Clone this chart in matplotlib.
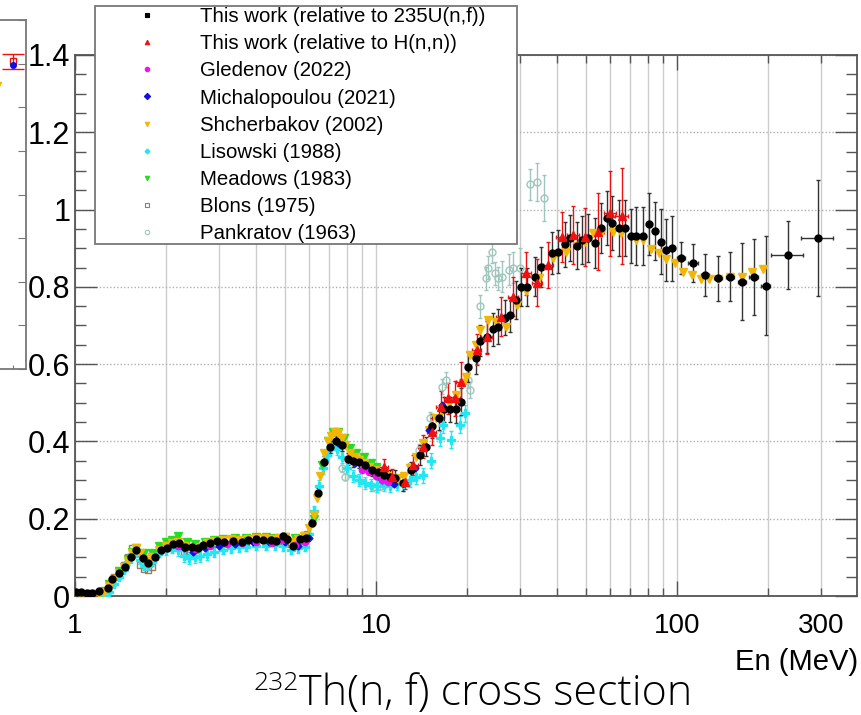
import numpy as np
import matplotlib.pyplot as plt
from matplotlib.ticker import FixedLocator, FixedFormatter, NullFormatter
from matplotlib.lines import Line2D

plt.rcParams['font.family'] = ['Liberation Sans', 'DejaVu Sans']

# ---- this work, relative to 235U(n,f)
E_tw = [1.01, 1.05, 1.10, 1.14, 1.20, 1.29, 1.33, 1.40, 1.47, 1.535,
        1.60, 1.68, 1.75, 1.84, 1.93, 2.02, 2.12, 2.22, 2.32, 2.44,
        2.57, 2.67, 2.81, 2.96, 3.12, 3.35, 3.58, 3.76, 4.00, 4.22,
        4.47, 4.67, 4.90, 5.05, 5.31, 5.58, 5.84, 6.14, 6.41, 6.74,
        7.03, 7.34, 7.69, 8.05, 8.40, 8.78, 9.22, 9.66, 10.15, 10.63,
        11.1, 11.6, 12.3, 13.1, 14.0, 14.6, 15.3, 16.2, 16.8, 17.6,
        18.4, 19.2, 20.2, 21.4, 22.2, 23.3, 24.5, 25.4, 26.8, 27.8,
        29.2, 30.4, 31.8, 33.8, 35.4, 38.5, 40.3, 42.4, 44.0, 46.4,
        48.5, 50.6, 53.3, 55.7, 58.5, 61.0, 63.9, 67.1, 70.5, 73.3,
        77.0, 80.6, 84.3, 88.2, 92.0, 96.3, 103, 113, 124, 137,
        150, 164, 180, 197, 234, 294]
Y_tw = [0.010, 0.010, 0.008, 0.008, 0.012, 0.020, 0.044, 0.060, 0.076, 0.100,
        0.120, 0.098, 0.085, 0.100, 0.120, 0.124, 0.134, 0.136, 0.126, 0.127,
        0.124, 0.132, 0.138, 0.143, 0.140, 0.143, 0.140, 0.145, 0.147, 0.145,
        0.145, 0.143, 0.155, 0.147, 0.130, 0.147, 0.150, 0.190, 0.267, 0.347,
        0.386, 0.400, 0.390, 0.354, 0.350, 0.347, 0.339, 0.326, 0.322, 0.313,
        0.309, 0.305, 0.292, 0.325, 0.365, 0.386, 0.440, 0.460, 0.483, 0.483,
        0.483, 0.503, 0.593, 0.615, 0.660, 0.670, 0.690, 0.697, 0.720, 0.727,
        0.766, 0.800, 0.800, 0.826, 0.852, 0.888, 0.891, 0.910, 0.926, 0.907,
        0.921, 0.927, 0.913, 0.952, 0.978, 0.965, 0.953, 0.953, 0.932, 0.932,
        0.932, 0.962, 0.945, 0.917, 0.895, 0.900, 0.875, 0.862, 0.831, 0.822,
        0.826, 0.813, 0.826, 0.803, 0.882, 0.926]
dY_tw = [0.004, 0.004, 0.004, 0.004, 0.004, 0.004, 0.004, 0.004, 0.004, 0.004,
         0.006, 0.006, 0.006, 0.006, 0.006, 0.006, 0.006, 0.006, 0.006, 0.006,
         0.006, 0.006, 0.006, 0.006, 0.006, 0.006, 0.006, 0.006, 0.006, 0.006,
         0.006, 0.006, 0.006, 0.006, 0.008, 0.008, 0.008, 0.010, 0.012, 0.014,
         0.015, 0.015, 0.015, 0.015, 0.015, 0.015, 0.015, 0.015, 0.018, 0.018,
         0.018, 0.020, 0.020, 0.022, 0.025, 0.025, 0.030, 0.030, 0.032, 0.032,
         0.035, 0.035, 0.038, 0.040, 0.040, 0.042, 0.042, 0.045, 0.045, 0.045,
         0.048, 0.050, 0.050, 0.050, 0.052, 0.055, 0.055, 0.058, 0.060, 0.060,
         0.062, 0.062, 0.065, 0.065, 0.070, 0.070, 0.072, 0.072, 0.070, 0.075,
         0.075, 0.080, 0.075, 0.084, 0.080, 0.084, 0.042, 0.050, 0.054, 0.058,
         0.063, 0.100, 0.099, 0.128, 0.088, 0.150]
dE_tw = [0] * 96 + [3, 4, 4, 4, 5, 5, 6, 7, 29, 35]

# ---- this work, relative to H(n,n)
E_hn = [10.6, 11.3, 12.5, 13.3, 14.3, 15.3, 16.4, 17.4, 18.3, 19.2, 21.6, 23.3,
        26.1, 28.6, 31.4, 34.3, 37.3, 41.4, 45.2, 49.4, 54.6, 60.0, 65.5]
Y_hn = [0.335, 0.309, 0.296, 0.339, 0.386, 0.425, 0.490, 0.512, 0.512, 0.555, 0.637, 0.671,
        0.723, 0.775, 0.835, 0.811, 0.857, 0.930, 0.934, 0.930, 0.943, 0.990, 0.983]
dY_hn = [0.020, 0.020, 0.020, 0.025, 0.030, 0.035, 0.040, 0.040, 0.045, 0.050, 0.040, 0.045,
         0.050, 0.050, 0.055, 0.060, 0.060, 0.065, 0.075, 0.075, 0.100, 0.110, 0.125]
dE_hn = [0.4, 0.4, 0.45, 0.5, 0.5, 0.55, 0.6, 0.6, 0.65, 0.7, 0.8, 0.9,
         1.0, 1.1, 1.2, 1.3, 1.4, 1.8, 2.0, 2.2, 2.5, 2.8, 3.1]

# ---- Gledenov (2022)
E_gle = [2.2, 2.5, 2.8, 3.2, 3.6, 4.0, 4.5, 4.86, 5.38, 5.8, 8.4, 9.0, 9.5, 10.0, 10.5, 11.0]
Y_gle = [0.130, 0.122, 0.130, 0.135, 0.138, 0.140, 0.138, 0.145, 0.132, 0.140,
         0.350, 0.325, 0.320, 0.310, 0.300, 0.295]

# ---- Michalopoulou (2021)
E_mic = [2.3, 2.46, 2.7, 3.0, 3.4, 3.9, 4.4, 5.0, 5.5, 6.0, 7.5, 8.5, 9.5, 10.5, 11.5, 13.5, 15.0, 16.5]
Y_mic = [0.125, 0.115, 0.125, 0.130, 0.135, 0.140, 0.140, 0.140, 0.130, 0.150,
         0.395, 0.345, 0.325, 0.300, 0.290, 0.330, 0.430, 0.495]

# ---- Shcherbakov (2002)
E_sch = [1.00, 1.05, 1.10, 1.15, 1.20, 1.25, 1.30, 1.35, 1.40, 1.45,
         1.50, 1.55, 1.60, 1.65, 1.70, 1.75, 1.80, 1.90, 2.00, 2.10,
         2.20, 2.30, 2.45, 2.60, 2.75, 2.90, 3.10, 3.30, 3.50, 3.75,
         4.00, 4.25, 4.50, 4.75, 5.00, 5.25, 5.50, 5.75, 6.00, 6.20,
         6.35, 6.50, 6.70, 6.90, 7.10, 7.30, 7.50, 7.70, 7.90, 8.20,
         8.50, 8.80, 9.10, 9.50, 9.90, 10.3, 10.8, 11.3, 11.8, 12.4,
         13.0, 13.6, 14.3, 15.0, 15.8, 16.6, 17.5, 18.4, 19.4, 19.9,
         20.5, 21.5, 22.2, 23.6, 25.1, 27.1, 29.3, 31.6, 34.9, 38.8,
         42.9, 46.6, 49.4, 52.6, 56.0, 61.4, 65.0, 73.3, 77.0, 82.1,
         87.0, 92.0, 98.3, 105, 112, 120, 128, 137, 150, 164,
         177, 193]
Y_sch = [0.005, 0.005, 0.005, 0.005, 0.006, 0.010, 0.025, 0.045, 0.060, 0.075,
         0.090, 0.110, 0.125, 0.110, 0.095, 0.090, 0.100, 0.120, 0.130, 0.137,
         0.140, 0.130, 0.125, 0.128, 0.137, 0.143, 0.145, 0.147, 0.146, 0.148,
         0.150, 0.149, 0.148, 0.150, 0.152, 0.140, 0.148, 0.155, 0.175, 0.210,
         0.253, 0.310, 0.371, 0.400, 0.415, 0.425, 0.423, 0.410, 0.390, 0.370,
         0.360, 0.352, 0.345, 0.335, 0.325, 0.318, 0.310, 0.305, 0.305, 0.310,
         0.330, 0.360, 0.395, 0.430, 0.460, 0.480, 0.500, 0.520, 0.550, 0.568,
         0.624, 0.650, 0.688, 0.714, 0.710, 0.697, 0.753, 0.788, 0.822, 0.874,
         0.891, 0.905, 0.915, 0.939, 0.940, 0.943, 0.940, 0.921, 0.920, 0.897,
         0.888, 0.871, 0.861, 0.839, 0.831, 0.820, 0.820, 0.820, 0.826, 0.826,
         0.838, 0.846]

# ---- Lisowski (1988)
E_lis = [1.25, 1.30, 1.35, 1.40, 1.45, 1.50, 1.55, 1.60, 1.65, 1.70,
         1.75, 1.80, 1.90, 2.00, 2.10, 2.20, 2.30, 2.40, 2.50, 2.60,
         2.75, 2.90, 3.10, 3.30, 3.50, 3.70, 4.00, 4.30, 4.60, 4.90,
         5.20, 5.50, 5.80, 6.00, 6.20, 6.45, 6.65, 6.85, 7.10, 7.40,
         7.70, 8.00, 8.40, 8.80, 9.20, 9.60, 10.1, 10.6, 11.1, 11.7,
         12.3, 13.0, 13.6, 14.3, 15.2, 16.3, 16.7, 17.8, 19.0, 19.7]
Y_lis = [0.000, 0.010, 0.030, 0.050, 0.068, 0.088, 0.108, 0.112, 0.092, 0.078,
         0.078, 0.088, 0.112, 0.118, 0.125, 0.118, 0.103, 0.098, 0.100, 0.104,
         0.108, 0.115, 0.120, 0.124, 0.127, 0.128, 0.130, 0.130, 0.131, 0.129,
         0.120, 0.124, 0.128, 0.160, 0.220, 0.285, 0.330, 0.365, 0.385, 0.380,
         0.360, 0.330, 0.310, 0.300, 0.292, 0.288, 0.285, 0.288, 0.284, 0.290,
         0.290, 0.300, 0.308, 0.312, 0.350, 0.408, 0.443, 0.404, 0.443, 0.473]
dY_lis = [0.005, 0.005, 0.005, 0.006, 0.006, 0.008, 0.010, 0.010, 0.010, 0.010,
          0.010, 0.010, 0.012, 0.012, 0.015, 0.015, 0.015, 0.015, 0.015, 0.015,
          0.015, 0.015, 0.012, 0.012, 0.012, 0.012, 0.012, 0.012, 0.012, 0.012,
          0.012, 0.012, 0.012, 0.012, 0.012, 0.014, 0.014, 0.014, 0.015, 0.015,
          0.015, 0.015, 0.015, 0.015, 0.015, 0.015, 0.015, 0.015, 0.015, 0.015,
          0.018, 0.018, 0.018, 0.020, 0.020, 0.020, 0.020, 0.022, 0.022, 0.022]

# ---- Meadows (1983)
E_mea = [1.30, 1.40, 1.50, 1.55, 1.60, 1.70, 1.80, 1.90, 2.00, 2.10,
         2.20, 2.35, 2.50, 2.70, 2.90, 3.10, 3.40, 3.70, 4.00, 4.30,
         4.60, 5.00, 5.40, 5.80, 6.20, 6.60, 6.90, 7.20, 7.50, 7.80,
         8.20, 8.60, 9.10, 9.60, 10.0]
Y_mea = [0.030, 0.065, 0.095, 0.115, 0.125, 0.110, 0.110, 0.130, 0.140, 0.145,
         0.155, 0.140, 0.135, 0.140, 0.145, 0.148, 0.150, 0.150, 0.152, 0.152,
         0.150, 0.153, 0.150, 0.155, 0.200, 0.340, 0.400, 0.425, 0.425, 0.410,
         0.382, 0.370, 0.360, 0.343, 0.335]

# ---- Blons (1975)
E_blo = [1.15, 1.25, 1.30, 1.35, 1.40, 1.45, 1.50, 1.55, 1.60, 1.65,
         1.70, 1.75, 1.80, 1.85, 1.90, 2.00, 2.10, 2.20, 2.30, 2.40,
         2.50, 2.70, 2.90, 3.10, 3.40, 3.70, 4.00, 4.40, 4.80, 5.20,
         5.60, 5.90]
Y_blo = [0.005, 0.015, 0.030, 0.050, 0.065, 0.080, 0.100, 0.125, 0.110, 0.080,
         0.070, 0.068, 0.075, 0.100, 0.115, 0.125, 0.130, 0.128, 0.115, 0.110,
         0.120, 0.130, 0.135, 0.140, 0.138, 0.140, 0.142, 0.140, 0.143, 0.135,
         0.142, 0.160]

# ---- Pankratov (1963)
E_pan = [7.7, 7.9, 9.8, 10.3, 10.6, 13.9, 15.1, 16.5, 17.1, 20.2, 20.5, 22.2,
         23.2, 23.6, 24.2, 24.8, 25.4, 26.3, 27.7, 28.6, 30.0, 32.4, 34.3, 36.2]
Y_pan = [0.330, 0.309, 0.283, 0.285, 0.290, 0.378, 0.460, 0.542, 0.560, 0.559, 0.533, 0.750,
         0.822, 0.850, 0.891, 0.835, 0.822, 0.826, 0.844, 0.850, 0.850, 1.065, 1.071, 1.030]
dY_pan = [0.010, 0.010, 0.010, 0.010, 0.010, 0.015, 0.015, 0.020, 0.020, 0.020, 0.020, 0.030,
          0.030, 0.030, 0.030, 0.030, 0.030, 0.040, 0.040, 0.040, 0.050, 0.040, 0.050, 0.060]

# neighbouring panel (cut at the figure edge)
side_x = [0.85]
side_red = [1.505]
side_red_err = [0.017]
side_blue = [1.497]
side_yel_x = [0.67]
side_yel = [1.45]

# label, E, Y, dY, dE, marker, colour, size, filled  (drawing order)
series = {
    "pan": ("Pankratov (1963)", E_pan, Y_pan, dY_pan, None, "o", "#9fc6bd", 5, False),
    "blo": ("Blons (1975)", E_blo, Y_blo, None, None, "s", "#a07a5c", 4, False),
    "lis": ("Lisowski (1988)", E_lis, Y_lis, dY_lis, None, "P", "#22e6f2", 5.5, True),
    "mea": ("Meadows (1983)", E_mea, Y_mea, None, None, "v", "#22dd22", 5.5, True),
    "sch": ("Shcherbakov (2002)", E_sch, Y_sch, None, None, "v", "#f2b705", 5.5, True),
    "mic": ("Michalopoulou (2021)", E_mic, Y_mic, None, None, "D", "#1010e0", 3.5, True),
    "gle": ("Gledenov (2022)", E_gle, Y_gle, None, None, "o", "#ee11ee", 4.5, True),
    "tw": ("This work (relative to 235U(n,f))", E_tw, Y_tw, dY_tw, dE_tw, "o", "black", 5, True),
    "hn": ("This work (relative to H(n,n))", E_hn, Y_hn, dY_hn, dE_hn, "^", "#ee1111", 5.5, True),
}
legend_order = ["tw", "hn", "gle", "mic", "sch", "lis", "mea", "blo", "pan"]

fig = plt.figure(figsize=(8.61, 7.15), dpi=100)
W, H = 861.0, 715.0

ax = fig.add_axes([75 / W, 1 - 596 / H, 782 / W, 541 / H])
ax.set_xscale("log")
ax.set_xlim(1, 396)
ax.set_ylim(0, 1.4)

for lab, e, y, dy, de, mk, col, ms, filled in series.values():
    ecol = "#333333" if col == "black" else col
    ax.errorbar(e, y, yerr=dy, xerr=de, fmt=mk, color=col, ecolor=ecol,
                ms=ms, mfc=col if filled else "none", mec=col, mew=1.0,
                elinewidth=1.0, capsize=1.5 if dy is not None else 0,
                zorder=3)

# grid: solid vertical at every decade subdivision, dotted horizontal
ax.xaxis.set_major_locator(FixedLocator([1, 10, 100]))
minors = [2, 3, 4, 5, 6, 7, 8, 9, 20, 30, 40, 50, 60, 70, 80, 90, 200, 300]
ax.xaxis.set_minor_locator(FixedLocator(minors))
ax.xaxis.set_major_formatter(FixedFormatter(["1", "10", "100"]))
ax.xaxis.set_minor_formatter(FixedFormatter(["" if m != 300 else "300" for m in minors]))
ax.grid(True, axis="x", which="both", color="#cccccc", lw=1.0, ls="-", zorder=0)
ax.grid(True, axis="y", which="major", color="#b0b0b0", lw=1.0, ls=(0, (1, 1.5)), zorder=0)
ax.set_axisbelow(True)

ax.yaxis.set_major_locator(FixedLocator([0, 0.2, 0.4, 0.6, 0.8, 1.0, 1.2, 1.4]))
ax.yaxis.set_major_formatter(FixedFormatter(["0", "0.2", "0.4", "0.6", "0.8", "1", "1.2", "1.4"]))
ax.yaxis.set_minor_locator(FixedLocator(np.arange(0.05, 1.4, 0.05)))
ax.yaxis.set_minor_formatter(NullFormatter())

ax.tick_params(axis="y", which="major", direction="in", length=16, width=1.0,
               left=True, right=True, labelsize=22, pad=3.5, color="#555555")
ax.tick_params(axis="y", which="minor", direction="in", length=8, width=1.0,
               left=True, right=True, color="#555555")
ax.tick_params(axis="x", which="major", direction="in", length=11, width=1.0,
               bottom=True, top=True, labelsize=20, pad=12, color="#555555")
ax.tick_params(axis="x", which="minor", direction="in", length=6, width=1.0,
               bottom=True, top=True, labelsize=20, pad=12, color="#555555")
for s in ax.spines.values():
    s.set_color("#555555")
    s.set_linewidth(1.3)

# legend: markers only
handles = []
labels = []
for key in legend_order:
    lab, e, y, dy, de, mk, col, ms, filled = series[key]
    handles.append(Line2D([], [], ls="none", marker="s" if key == "tw" else mk,
                          color=col, mfc=col if filled else "none", mec=col,
                          ms=3.2, mew=0.8))
    labels.append(lab)
leg = fig.legend(handles, labels, loc="upper left",
                 bbox_to_anchor=(95 / W, 1 - 244 / H, 422 / W, 238 / H),
                 mode="expand", fontsize=14.7, frameon=True, fancybox=False,
                 framealpha=1, edgecolor="#777777", borderpad=0.05,
                 labelspacing=0.4, handlelength=5.0, handletextpad=0.1,
                 borderaxespad=0)
leg.get_frame().set_linewidth(1.3)
leg.set_zorder(10)

fig.text(858 / W, 1 - 662 / H, "En (MeV)", ha="right", va="center", fontsize=21)

# title below the x axis
fig.text(299 / W, 1 - 705 / H, "Th(n, f) cross section", ha="left", va="baseline",
         fontsize=31, family=["Open Sans", "DejaVu Sans"], fontweight="light")
fig.text(299 / W, 1 - 690 / H, "232", ha="right", va="baseline",
         fontsize=19, family=["Open Sans", "DejaVu Sans"], fontweight="light")

# neighbouring panel at the left edge
sax = fig.add_axes([-60 / W, 1 - 369 / H, 86 / W, 349 / H])
sax.set_xlim(0, 1)
sax.set_ylim(0.8, 1.6)
sax.errorbar(side_x, side_red, yerr=side_red_err, fmt="s", color="#ee1111",
             mfc="none", ms=5, elinewidth=1.0, capsize=8, zorder=3)
sax.plot(side_x, side_blue, "o", color="#1010e0", ms=4, zorder=4)
sax.plot(side_yel_x, side_yel, "v", color="#f2b705", ms=4)
sax.yaxis.set_major_locator(FixedLocator(np.arange(0.8, 1.61, 0.1)))
sax.xaxis.set_major_locator(FixedLocator(side_x))
sax.tick_params(direction="in", left=False, right=True, bottom=True,
                labelleft=False, labelbottom=False, length=6, color="#777777")
sax.tick_params(axis="x", length=3)
for s in sax.spines.values():
    s.set_color("#777777")
    s.set_linewidth(1.3)

fig.savefig("out.png", dpi=100)
